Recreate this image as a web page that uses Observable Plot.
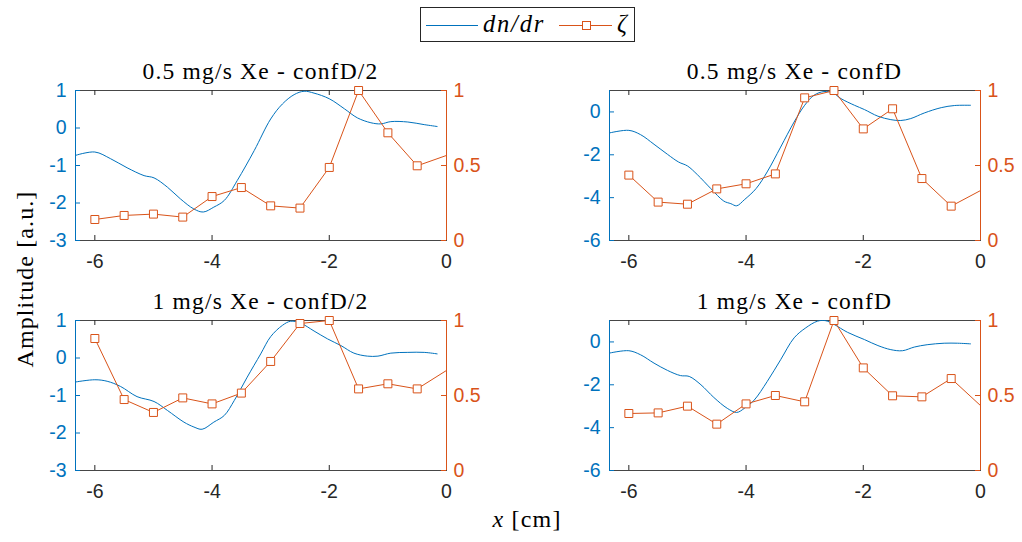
<!DOCTYPE html>
<html><head><meta charset="utf-8">
<script src="https://cdn.jsdelivr.net/npm/d3@7"></script>
<script src="https://cdn.jsdelivr.net/npm/@observablehq/plot@0.6"></script>
<style>
body{margin:0;background:#fff;}
#chart{position:relative;width:1022px;height:542px;overflow:hidden;background:#fff;}
</style></head><body><div id="chart"></div>
<script>
// ---- data ----
const titles = ["0.5 mg/s Xe - confD/2", "0.5 mg/s Xe - confD", "1 mg/s Xe - confD/2", "1 mg/s Xe - confD"];
const xTicks = [-6, -4, -2, 0];
const xDomain = [-6.33, 0];
const yDomainA = [-3, 1];
const yTicksA = [-3, -2, -1, 0, 1];
const yDomainB = [-6, 1];
const yTicksB = [-6, -4, -2, 0];
const zetaTicks = [0, 0.5, 1];
const zetaX = [-6, -5.5, -5, -4.5, -4, -3.5, -3, -2.5, -2, -1.5, -1, -0.5, 0];

const dndrX1 = [-6.33,-6,-5.73,-5.45,-5.16,-4.99,-4.76,-4.54,-4.31,-4.15,-3.97,-3.79,-3.57,-3.28,-3.0,-2.8,-2.6,-2.43,-2.26,-2.0,-1.74,-1.52,-1.29,-1.12,-0.95,-0.66,-0.38,-0.16];
const dndrY1 = [-0.73,-0.64,-0.82,-1.06,-1.27,-1.33,-1.58,-1.89,-2.16,-2.24,-2.11,-1.93,-1.4,-0.6,0.24,0.64,0.89,0.98,0.93,0.78,0.51,0.27,0.14,0.11,0.17,0.16,0.09,0.04];
const dndrX2 = [-6.33,-6,-5.8,-5.57,-5.34,-5.15,-5.0,-4.83,-4.6,-4.38,-4.26,-4.16,-4.03,-3.83,-3.64,-3.41,-3.18,-3.0,-2.84,-2.67,-2.52,-2.38,-2.15,-1.98,-1.75,-1.53,-1.36,-1.19,-0.96,-0.67,-0.44,-0.17];
const dndrY2 = [-0.98,-0.86,-1.06,-1.51,-1.98,-2.34,-2.52,-2.93,-3.58,-4.16,-4.28,-4.38,-4.1,-3.58,-2.8,-1.64,-0.47,0.31,0.78,0.95,0.89,0.62,0.31,0.11,-0.2,-0.36,-0.4,-0.31,-0.05,0.2,0.3,0.31];
const dndrX3 = [-6.33,-6,-5.79,-5.56,-5.28,-4.99,-4.76,-4.48,-4.31,-4.17,-3.97,-3.79,-3.62,-3.4,-3.17,-3.0,-2.8,-2.66,-2.49,-2.26,-2.03,-1.8,-1.58,-1.35,-1.17,-0.95,-0.66,-0.38,-0.16];
const dndrY3 = [-0.64,-0.58,-0.62,-0.76,-1.03,-1.16,-1.4,-1.71,-1.84,-1.9,-1.71,-1.53,-1.13,-0.51,0.11,0.57,0.87,0.98,0.93,0.72,0.51,0.33,0.13,0.05,0.05,0.13,0.15,0.15,0.11];
const dndrX4 = [-6.33,-6,-5.8,-5.57,-5.34,-5.12,-4.97,-4.77,-4.55,-4.32,-4.16,-4.03,-3.86,-3.64,-3.41,-3.18,-2.98,-2.78,-2.64,-2.5,-2.27,-1.98,-1.75,-1.53,-1.33,-1.13,-0.91,-0.62,-0.39,-0.17];
const dndrY4 = [-0.52,-0.41,-0.6,-0.99,-1.33,-1.57,-1.61,-2.0,-2.59,-3.1,-3.29,-3.1,-2.71,-1.85,-0.83,0.19,0.66,0.97,0.99,0.82,0.45,0.11,-0.17,-0.36,-0.41,-0.24,-0.13,-0.06,-0.06,-0.09];

const zeta1 = [0.14,0.167,0.176,0.156,0.293,0.353,0.231,0.216,0.487,1.0,0.718,0.498,0.567];
const zeta2 = [0.436,0.256,0.242,0.344,0.378,0.444,0.951,1.0,0.744,0.878,0.413,0.229,0.333];
const zeta3 = [0.88,0.473,0.387,0.484,0.444,0.516,0.727,0.98,1.0,0.544,0.578,0.544,0.667];
const zeta4 = [0.38,0.384,0.429,0.309,0.444,0.5,0.458,1.0,0.684,0.498,0.491,0.613,0.433];

// ---- layout ----
const BLUE = "#0072BD", ORANGE = "#D95319", AXC = "#262626";
const FW = 371, FH = 150, ML = 60, MR = 60, MT = 45, MB = 45;
const TICKFS = 19.5;
const panels = [
  {title: titles[0], dx: dndrX1, dy: dndrY1, z: zeta1, yDomain: yDomainA, yTicks: yTicksA, left: 75, top: 90},
  {title: titles[1], dx: dndrX2, dy: dndrY2, z: zeta2, yDomain: yDomainB, yTicks: yTicksB, left: 609, top: 90},
  {title: titles[2], dx: dndrX3, dy: dndrY3, z: zeta3, yDomain: yDomainA, yTicks: yTicksA, left: 75, top: 320},
  {title: titles[3], dx: dndrX4, dy: dndrY4, z: zeta4, yDomain: yDomainB, yTicks: yTicksB, left: 609, top: 320}
];
const chart = document.getElementById("chart");
const fmt = d => String(d);

function place(svg, p) {
  svg.style.position = "absolute";
  svg.style.left = (p.left - ML) + "px";
  svg.style.top = (p.top - MT) + "px";
  svg.style.maxWidth = "none";
  svg.style.overflow = "visible";
  chart.appendChild(svg);
}

for (const p of panels) {
  const common = {
    width: FW + ML + MR, height: FH + MT + MB,
    marginLeft: ML, marginRight: MR, marginTop: MT, marginBottom: MB,
    style: {background: "transparent", fontFamily: "'Liberation Sans', Arial, sans-serif", fontSize: TICKFS + "px"}
  };
  const blueData = p.dx.map((x, i) => ({x, y: p.dy[i]}));
  const zData = zetaX.map((x, i) => ({x, y: p.z[i]}));
  const A = Plot.plot({
    ...common,
    x: {domain: xDomain, label: null},
    y: {domain: p.yDomain, label: null},
    marks: [
      Plot.frame({stroke: AXC, strokeOpacity: 0.85}),
      Plot.ruleX(xTicks, {x: d => d, insetTop: FH - 5, stroke: AXC}),
      Plot.ruleX(xTicks, {x: d => d, insetBottom: FH - 5, stroke: AXC}),
      Plot.ruleY(p.yTicks, {y: d => d, insetRight: FW - 5, stroke: BLUE}),
      Plot.ruleX([xDomain[0]], {stroke: BLUE}),
      Plot.axisX(xTicks, {tickSize: 0, tickPadding: 14, tickFormat: fmt, fill: AXC, fontSize: TICKFS, label: null}),
      Plot.axisY(p.yTicks, {anchor: "left", tickSize: 0, tickPadding: 9, tickFormat: fmt, fill: BLUE, fontSize: TICKFS, label: null}),
      Plot.line(blueData, {x: "x", y: "y", stroke: BLUE, strokeWidth: 1, curve: "catmull-rom", clip: true})
    ]
  });
  const B = Plot.plot({
    ...common,
    x: {domain: xDomain, axis: null, label: null},
    y: {domain: [0, 1], label: null},
    marks: [
      Plot.ruleY(zetaTicks, {y: d => d, insetLeft: FW - 5, stroke: ORANGE}),
      Plot.ruleX([xDomain[1]], {stroke: ORANGE}),
      Plot.axisY(zetaTicks, {anchor: "right", tickSize: 0, tickPadding: 7, tickFormat: fmt, fill: ORANGE, fontSize: TICKFS, label: null}),
      Plot.line(zData, {x: "x", y: "y", stroke: ORANGE, strokeWidth: 1, clip: true}),
      Plot.dot(zData.filter(d => d.x < 0), {x: "x", y: "y", symbol: "square", r: 4.5, fill: "white", stroke: ORANGE, strokeWidth: 1})
    ]
  });
  place(A, p);
  place(B, p);
}

// ---- titles, labels, legend (text overlay) ----
const ov = d3.select(chart).append("svg")
  .attr("width", 1022).attr("height", 542)
  .style("position", "absolute").style("left", 0).style("top", 0)
  .style("font-family", "'Liberation Serif', 'Times New Roman', serif");

for (const p of panels) {
  ov.append("text").attr("x", p.left + FW / 2).attr("y", p.top - 11)
    .attr("text-anchor", "middle").attr("font-size", 23.5).attr("letter-spacing", "1.2px")
    .attr("fill", "#000").text(p.title);
}
const xl = ov.append("text").attr("x", 527).attr("y", 527).attr("text-anchor", "middle")
  .attr("font-size", 24).attr("letter-spacing", "1.2px").attr("fill", "#000");
xl.append("tspan").attr("font-style", "italic").text("x");
xl.append("tspan").text(" [cm]");
ov.append("text").attr("transform", "translate(33,279) rotate(-90)").attr("text-anchor", "middle")
  .attr("font-size", 24).attr("letter-spacing", "1.1px").attr("fill", "#000").text("Amplitude [a.u.]");

const lg = ov.append("g");
lg.append("rect").attr("x", 420.5).attr("y", 7.5).attr("width", 214).attr("height", 34)
  .attr("fill", "white").attr("stroke", AXC).attr("stroke-width", 1);
lg.append("line").attr("x1", 426).attr("x2", 478).attr("y1", 25.5).attr("y2", 25.5).attr("stroke", BLUE);
lg.append("text").attr("x", 483).attr("y", 32).attr("font-size", 24.5).attr("font-style", "italic")
  .attr("letter-spacing", "1.8px").attr("fill", "#000").text("dn/dr");
lg.append("line").attr("x1", 559).attr("x2", 612).attr("y1", 25.5).attr("y2", 25.5).attr("stroke", ORANGE);
lg.append("rect").attr("x", 582.5).attr("y", 21.5).attr("width", 8).attr("height", 8)
  .attr("fill", "white").attr("stroke", ORANGE);
lg.append("text").attr("x", 617).attr("y", 32).attr("font-size", 24.5).attr("font-style", "italic")
  .attr("fill", "#000").text("ζ");
</script>
</body></html>
